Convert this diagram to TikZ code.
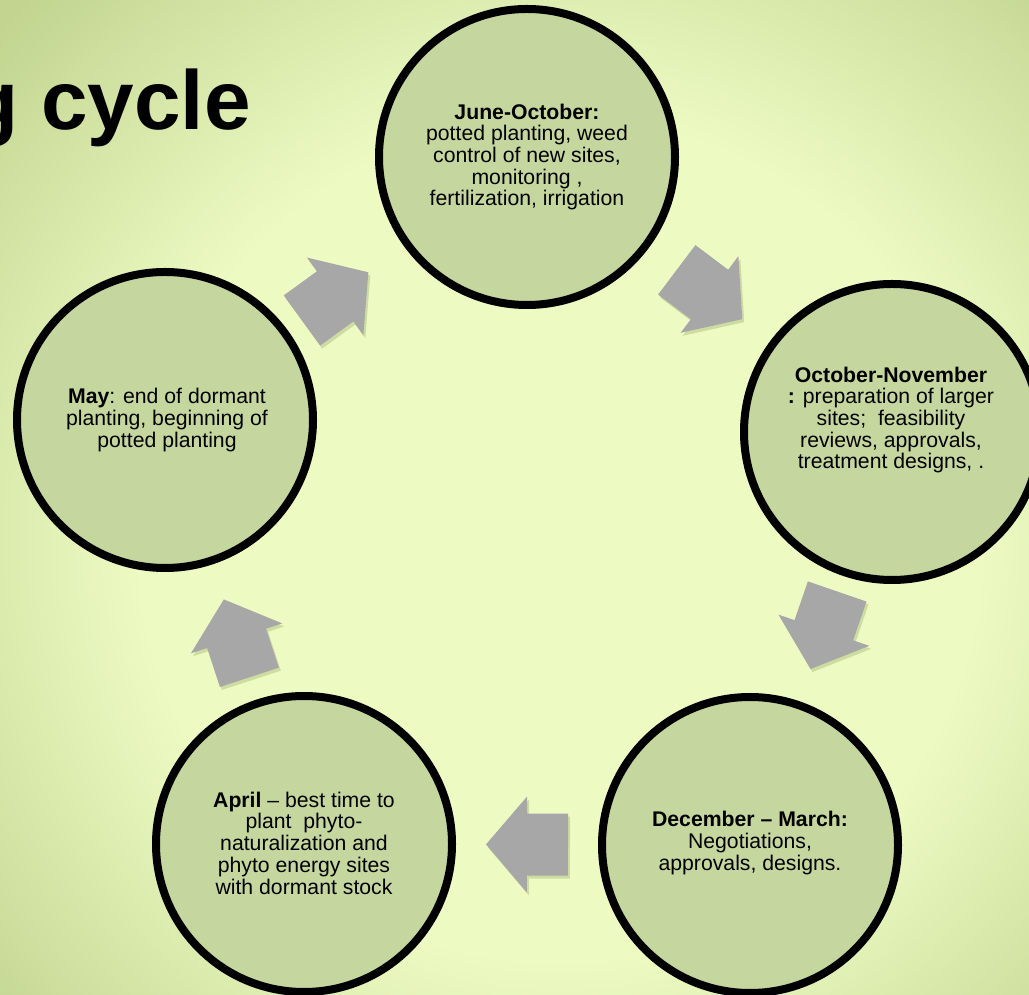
\documentclass[tikz,border=0pt]{standalone}
\usepackage{fontspec}
\setmainfont{Liberation Sans}
\usetikzlibrary{calc,shadows}
\definecolor{bgin}{RGB}{237,251,195}
\definecolor{bgout}{RGB}{194,212,144}
\definecolor{ringfill}{RGB}{197,214,158}
\definecolor{arrowgray}{RGB}{167,167,167}
\definecolor{shadowgreen}{RGB}{110,130,60}
\pgfdeclareradialshading{bgshade}{\pgfpointorigin}{color(0bp)=(bgin); color(10.5bp)=(bgin); color(19bp)=(bgout); color(50bp)=(bgout)}
\tikzset{
  ring/.style={circle, draw=black, line width=8bp, fill=ringfill, minimum size=296bp, inner sep=0pt,
    drop shadow={shadow xshift=2bp, shadow yshift=-3bp, opacity=0.22, fill=shadowgreen}},
  ringtext/.style={align=center, font=\fontsize{21.3}{21.8}\selectfont, inner sep=0pt},
  titletext/.style={anchor=base east, inner sep=0pt, font=\fontsize{84}{84}\selectfont\bfseries},
  pics/blockarrow/.style={code={
    \fill[arrowgray, drop shadow={shadow xshift=2bp, shadow yshift=-3bp, opacity=0.25, fill=shadowgreen}]
      (-41,-31) -- (0,-31) -- (0,-48) -- (41,0) -- (0,48) -- (0,31) -- (-41,31) -- cycle;
  }},
}
\begin{document}
\begin{tikzpicture}[x=1bp, y=1bp]
\useasboundingbox (0,0) rectangle (1029,995);
\clip (0,0) rectangle (1029,995);
\shade[shading=bgshade] (560,455) circle (1000);

\node[titletext] (title) at (251,865) {g cycle};

% circles
\node[ring] (top)   at (527,838) {};
\node[ring] (right) at (892,563) {};
\node[ring] (br)    at (750,150) {};
\node[ring] (bl)    at (304,151) {};
\node[ring] (left)  at (165,575) {};

% texts
\node[ringtext] (ttop) at (527,838) {\textbf{June-October:}\\potted planting, weed\\control of new sites,\\monitoring ,\\fertilization, irrigation};
\node[ringtext] (tright) at (891,575) {\textbf{October-November}\\\textbf{:} preparation of larger\\sites;\ \ feasibility\\reviews, approvals,\\treatment designs, .};
\node[ringtext] (tbr) at (750,152) {\textbf{December – March:}\\Negotiations,\\approvals, designs.};
\node[ringtext] (tbl) at (304,152) {\textbf{April} – best time to\\plant\ \ phyto-\\naturalization and\\phyto energy sites\\with dormant stock};
\node[ringtext] (tleft) at (167,575) {\textbf{May}: end of dormant\\planting, beginning of\\potted planting};

% block arrows
\path (top.center) -- (right.center) pic[pos=0.5, sloped, allow upside down] {blockarrow};
\path (right.center) -- (br.center) pic[pos=0.48, sloped, allow upside down] {blockarrow};
\path (br.center) -- (bl.center) pic[pos=0.5, sloped, allow upside down] {blockarrow};
\path (bl.center) -- (left.center) pic[pos=0.485, sloped, allow upside down] {blockarrow};
\path (left.center) -- (top.center) pic[pos=0.47, sloped, allow upside down] {blockarrow};
\end{tikzpicture}
\end{document}
